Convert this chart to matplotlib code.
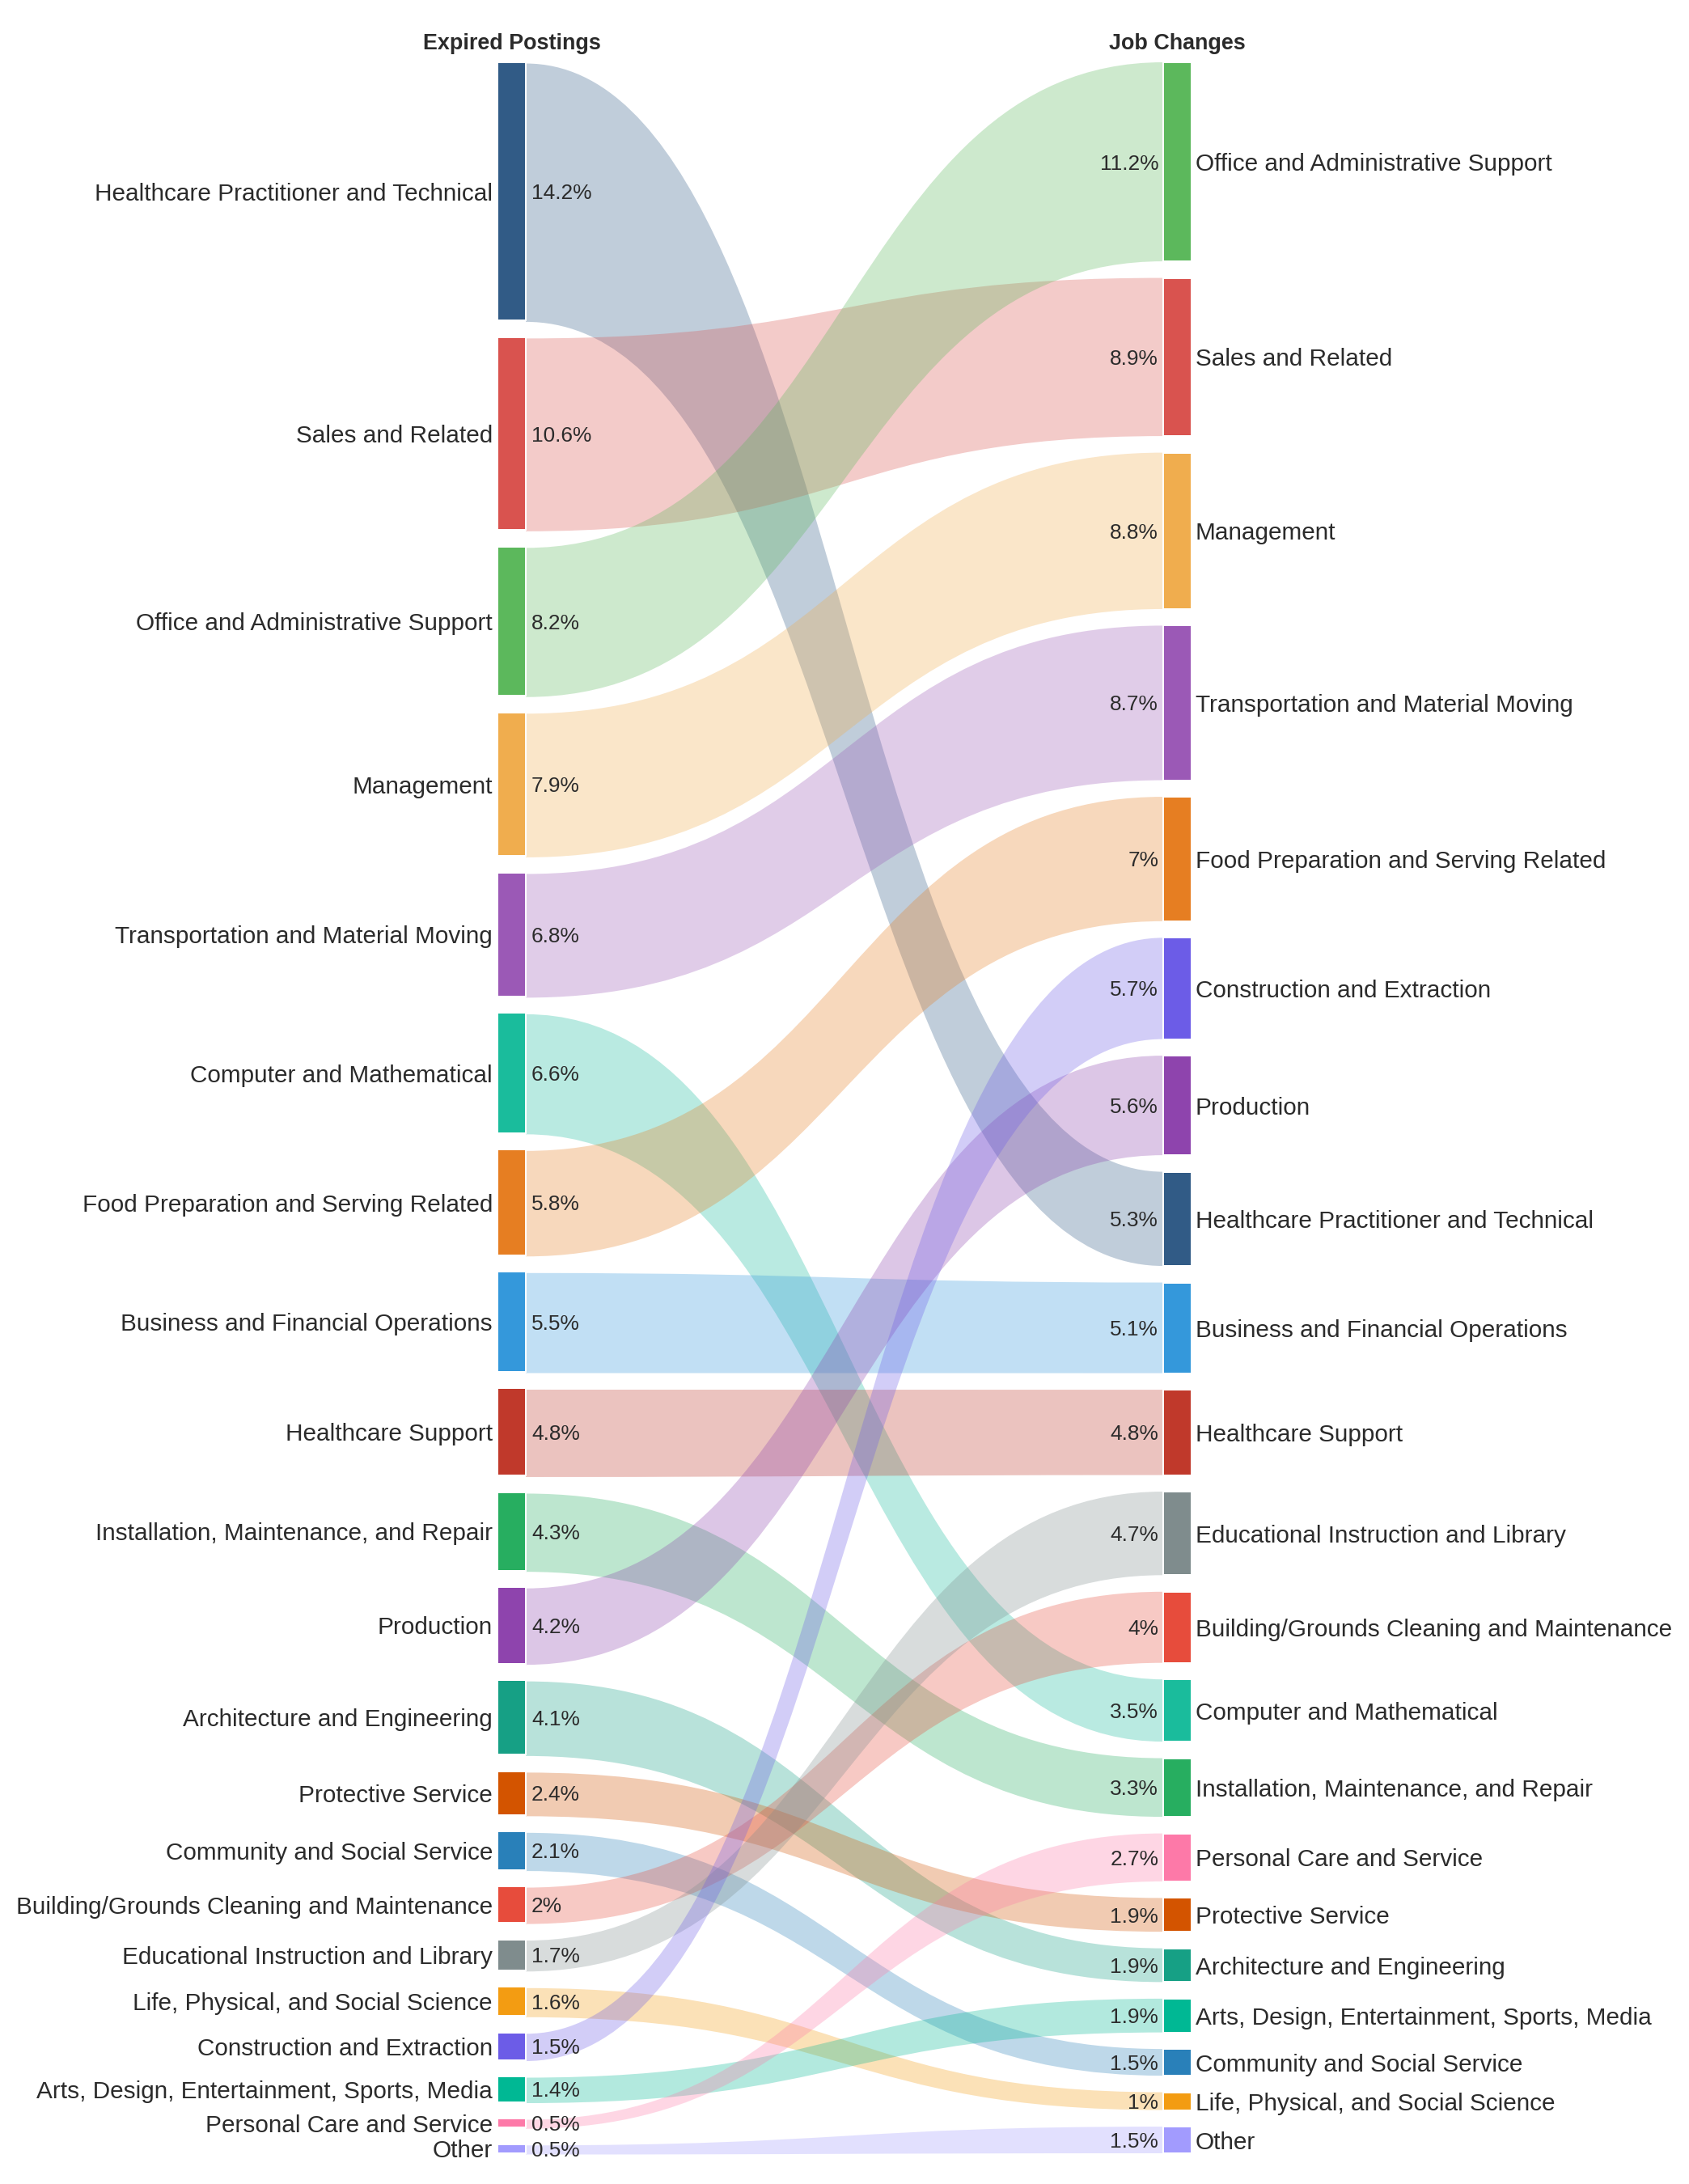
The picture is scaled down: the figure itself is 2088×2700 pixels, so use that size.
import matplotlib
matplotlib.use("Agg")
import matplotlib.pyplot as plt
from matplotlib.path import Path
from matplotlib.patches import PathPatch, Rectangle

# ---------------- data ----------------
left_categories = [
    "Healthcare Practitioner and Technical", "Sales and Related",
    "Office and Administrative Support", "Management",
    "Transportation and Material Moving", "Computer and Mathematical",
    "Food Preparation and Serving Related", "Business and Financial Operations",
    "Healthcare Support", "Installation, Maintenance, and Repair", "Production",
    "Architecture and Engineering", "Protective Service",
    "Community and Social Service", "Building/Grounds Cleaning and Maintenance",
    "Educational Instruction and Library", "Life, Physical, and Social Science",
    "Construction and Extraction", "Arts, Design, Entertainment, Sports, Media",
    "Personal Care and Service", "Other",
]
left_values = [14.2, 10.6, 8.2, 7.9, 6.8, 6.6, 5.8, 5.5, 4.8, 4.3, 4.2, 4.1,
               2.4, 2.1, 2.0, 1.7, 1.6, 1.5, 1.4, 0.5, 0.5]

right_categories = [
    "Office and Administrative Support", "Sales and Related", "Management",
    "Transportation and Material Moving", "Food Preparation and Serving Related",
    "Construction and Extraction", "Production",
    "Healthcare Practitioner and Technical", "Business and Financial Operations",
    "Healthcare Support", "Educational Instruction and Library",
    "Building/Grounds Cleaning and Maintenance", "Computer and Mathematical",
    "Installation, Maintenance, and Repair", "Personal Care and Service",
    "Protective Service", "Architecture and Engineering",
    "Arts, Design, Entertainment, Sports, Media", "Community and Social Service",
    "Life, Physical, and Social Science", "Other",
]
right_values = [11.2, 8.9, 8.8, 8.7, 7.0, 5.7, 5.6, 5.3, 5.1, 4.8, 4.7, 4.0,
                3.5, 3.3, 2.7, 1.9, 1.9, 1.9, 1.5, 1.0, 1.5]

left_title = "Expired Postings"
right_title = "Job Changes"

colors = {
    "Healthcare Practitioner and Technical": "#315b86",
    "Sales and Related": "#d9534f",
    "Office and Administrative Support": "#5cb85c",
    "Management": "#f0ad4e",
    "Transportation and Material Moving": "#9b59b6",
    "Computer and Mathematical": "#1abc9c",
    "Food Preparation and Serving Related": "#e67e22",
    "Business and Financial Operations": "#3498db",
    "Healthcare Support": "#c0392b",
    "Installation, Maintenance, and Repair": "#27ae60",
    "Production": "#8e44ad",
    "Architecture and Engineering": "#16a085",
    "Protective Service": "#d35400",
    "Community and Social Service": "#2980b9",
    "Building/Grounds Cleaning and Maintenance": "#e74c3c",
    "Educational Instruction and Library": "#7f8c8d",
    "Life, Physical, and Social Science": "#f39c12",
    "Construction and Extraction": "#6c5ce7",
    "Arts, Design, Entertainment, Sports, Media": "#00b894",
    "Personal Care and Service": "#fd79a8",
    "Other": "#a29bfe",
}

# ---------------- layout ----------------
W, H = 2088, 2700
TOP, BOTTOM, PAD = 77, 2662, 20.5
LX0, LX1 = 615, 650
RX0, RX1 = 1438, 1473
TEXT = "#2b2b2b"
FONT = ["Liberation Sans", "DejaVu Sans"]


def stack(values):
    n = len(values)
    k = (BOTTOM - TOP - PAD * (n - 1)) / sum(values)
    pos = []
    y = TOP
    for v in values:
        h = v * k
        pos.append((y, y + h))
        y += h + PAD
    return pos


left_pos = dict(zip(left_categories, stack(left_values)))
right_pos = dict(zip(right_categories, stack(right_values)))

fig = plt.figure(figsize=(W / 100, H / 100), dpi=100)
ax = fig.add_axes([0, 0, 1, 1])
ax.set_xlim(0, W)
ax.set_ylim(H, 0)
ax.axis("off")

# links
xa, xb = LX1, RX0
xm = (xa + xb) / 2
for cat in left_categories:
    lt, lb = left_pos[cat]
    rt, rb = right_pos[cat]
    lt += 1.5; lb += 1.5
    verts = [(xa, lt), (xm, lt), (xm, rt), (xb, rt),
             (xb, rb), (xm, rb), (xm, lb), (xa, lb), (xa, lt)]
    codes = [Path.MOVETO, Path.CURVE4, Path.CURVE4, Path.CURVE4,
             Path.LINETO, Path.CURVE4, Path.CURVE4, Path.CURVE4, Path.CLOSEPOLY]
    ax.add_patch(PathPatch(Path(verts, codes), facecolor=colors[cat],
                           alpha=0.3, edgecolor="none", zorder=1))

# nodes + labels
for cat, v in zip(left_categories, left_values):
    t, b = left_pos[cat]
    ax.add_patch(Rectangle((LX0, t), LX1 - LX0, b - t, facecolor=colors[cat],
                           edgecolor="white", linewidth=1.44, zorder=3))
    yc = (t + b) / 2
    ax.text(LX0 - 6, yc, cat, ha="right", va="center_baseline",
            fontsize=21.4, color=TEXT, family=FONT, zorder=4)
    ax.text(LX1 + 7, yc, f"{v:g}%", ha="left", va="center_baseline",
            fontsize=18.9, color=TEXT, family=FONT, zorder=4)

for cat, v in zip(right_categories, right_values):
    t, b = right_pos[cat]
    ax.add_patch(Rectangle((RX0, t), RX1 - RX0, b - t, facecolor=colors[cat],
                           edgecolor="white", linewidth=1.44, zorder=3))
    yc = (t + b) / 2
    ax.text(RX1 + 5, yc, cat, ha="left", va="center_baseline",
            fontsize=21.4, color=TEXT, family=FONT, zorder=4)
    ax.text(RX0 - 6, yc, f"{v:g}%", ha="right", va="center_baseline",
            fontsize=18.9, color=TEXT, family=FONT, zorder=4)

ax.text((LX0 + LX1) / 2, 51, left_title, ha="center", va="center_baseline",
        fontsize=19.4, fontweight="bold", color=TEXT, family=FONT)
ax.text((RX0 + RX1) / 2, 51, right_title, ha="center", va="center_baseline",
        fontsize=19.4, fontweight="bold", color=TEXT, family=FONT)

fig.savefig("out.png", dpi=100, facecolor="white")
